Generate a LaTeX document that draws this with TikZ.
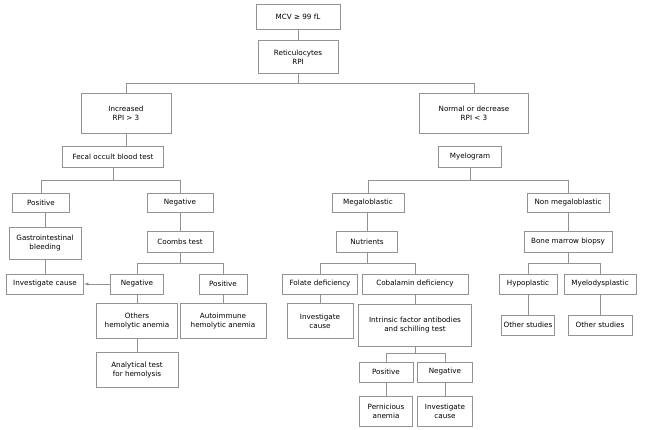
\documentclass[tikz,border=0pt]{standalone}
\usepackage{fontspec}
\setmainfont{DejaVu Sans}
\begin{document}
\begin{tikzpicture}[x=1pt,y=-1pt,
 bx/.style={draw=gray!85,line width=0.6pt,align=center,inner sep=1pt,font=\fontsize{7.2}{9}\selectfont},
 ln/.style={draw=gray!85,line width=0.6pt}]
\useasboundingbox (0,0) rectangle (654,429);
\newcommand\bx[6]{\node[bx,minimum width=#4pt,minimum height=#5pt] (#1) at (#2,#3) {#6};}
\bx{mcv}{298}{17}{84}{25}{MCV ≥ 99 fL}
\bx{ret}{298}{57}{80}{33}{Reticulocytes\\RPI}
\bx{inc}{126}{113}{90}{40}{Increased\\RPI > 3}
\bx{nor}{474}{113}{109}{40}{Normal or decrease\\RPI < 3}
\bx{fec}{113}{157}{101}{21}{Fecal occult blood test}
\bx{mye}{470}{157}{63}{21}{Myelogram}
\bx{pos}{41}{203}{57}{19}{Positive}
\bx{neg}{180}{203}{66}{19}{Negative}
\bx{meg}{368}{203}{72}{19}{Megaloblastic}
\bx{non}{568}{203}{82}{19}{Non megaloblastic}
\bx{gib}{45}{243}{72}{32}{Gastrointestinal\\bleeding}
\bx{coo}{180}{242}{66}{21}{Coombs test}
\bx{nut}{367}{242}{61}{21}{Nutrients}
\bx{bmb}{568}{242}{88}{21}{Bone marrow biopsy}
\bx{ic1}{45}{284}{77}{20}{Investigate cause}
\bx{neg2}{137}{284}{53}{20}{Negative}
\bx{pos2}{223}{284}{48}{20}{Positive}
\bx{fol}{320}{284}{75}{20}{Folate deficiency}
\bx{cob}{415}{284}{106}{20}{Cobalamin deficiency}
\bx{hyp}{528}{284}{58}{20}{Hypoplastic}
\bx{mds}{600}{284}{72}{20}{Myelodysplastic}
\bx{oth}{137}{321}{81}{35}{Others\\hemolytic anemia}
\bx{aut}{223}{321}{86}{35}{Autoimmune\\hemolytic anemia}
\bx{ic2}{320}{321}{66}{35}{Investigate\\cause}
\bx{ifa}{415}{325}{113}{42}{Intrinsic factor antibodies\\and schilling test}
\bx{os1}{528}{325}{53}{20}{Other studies}
\bx{os2}{600}{325}{64}{20}{Other studies}
\bx{ana}{137}{370}{82}{35}{Analytical test\\for hemolysis}
\bx{pos3}{386}{372}{54}{20}{Positive}
\bx{neg3}{445}{372}{55}{20}{Negative}
\bx{per}{386}{411}{53}{30}{Pernicious\\anemia}
\bx{ic3}{445}{411}{55}{30}{Investigate\\cause}
\draw[ln] (mcv) -- (ret);
\draw[ln] (ret.south) -- (298,83) -| (inc.north);
\draw[ln] (298,83) -| (nor.north);
\draw[ln] (inc) -- (inc.south |- fec.north);
\draw[ln] (nor.south) -- (nor.south -| mye.north);
\draw[ln] (fec.south) -- (113,180) -| (pos.north);
\draw[ln] (113,180) -| (neg.north);
\draw[ln] (mye.south) -- (470,180) -| (meg.north);
\draw[ln] (470,180) -| (non.north);
\draw[ln] (pos.south -| gib.north) -- (gib.north);
\draw[ln] (gib) -- (ic1);
\draw[ln] (neg) -- (coo);
\draw[ln] (meg.south -| nut.north) -- (nut.north);
\draw[ln] (non) -- (bmb);
\draw[ln] (coo.south) -- (180,263) -| (neg2.north);
\draw[ln] (180,263) -| (pos2.north);
\draw[ln] (nut.south) -- (367,263) -| (fol.north);
\draw[ln] (367,263) -| (cob.north);
\draw[ln] (bmb.south) -- (568,263) -| (hyp.north);
\draw[ln] (568,263) -| (mds.north);
\draw[ln,-latex] (neg2) -- (ic1);
\draw[ln] (neg2) -- (oth);
\draw[ln] (pos2) -- (aut);
\draw[ln] (oth) -- (ana);
\draw[ln] (fol) -- (ic2);
\draw[ln] (cob) -- (ifa);
\draw[ln] (hyp) -- (os1);
\draw[ln] (mds) -- (os2);
\draw[ln] (ifa.south) -- (415,353) -| (pos3.north);
\draw[ln] (415,353) -| (neg3.north);
\draw[ln] (pos3) -- (per);
\draw[ln] (neg3) -- (ic3);
\end{tikzpicture}
\end{document}
